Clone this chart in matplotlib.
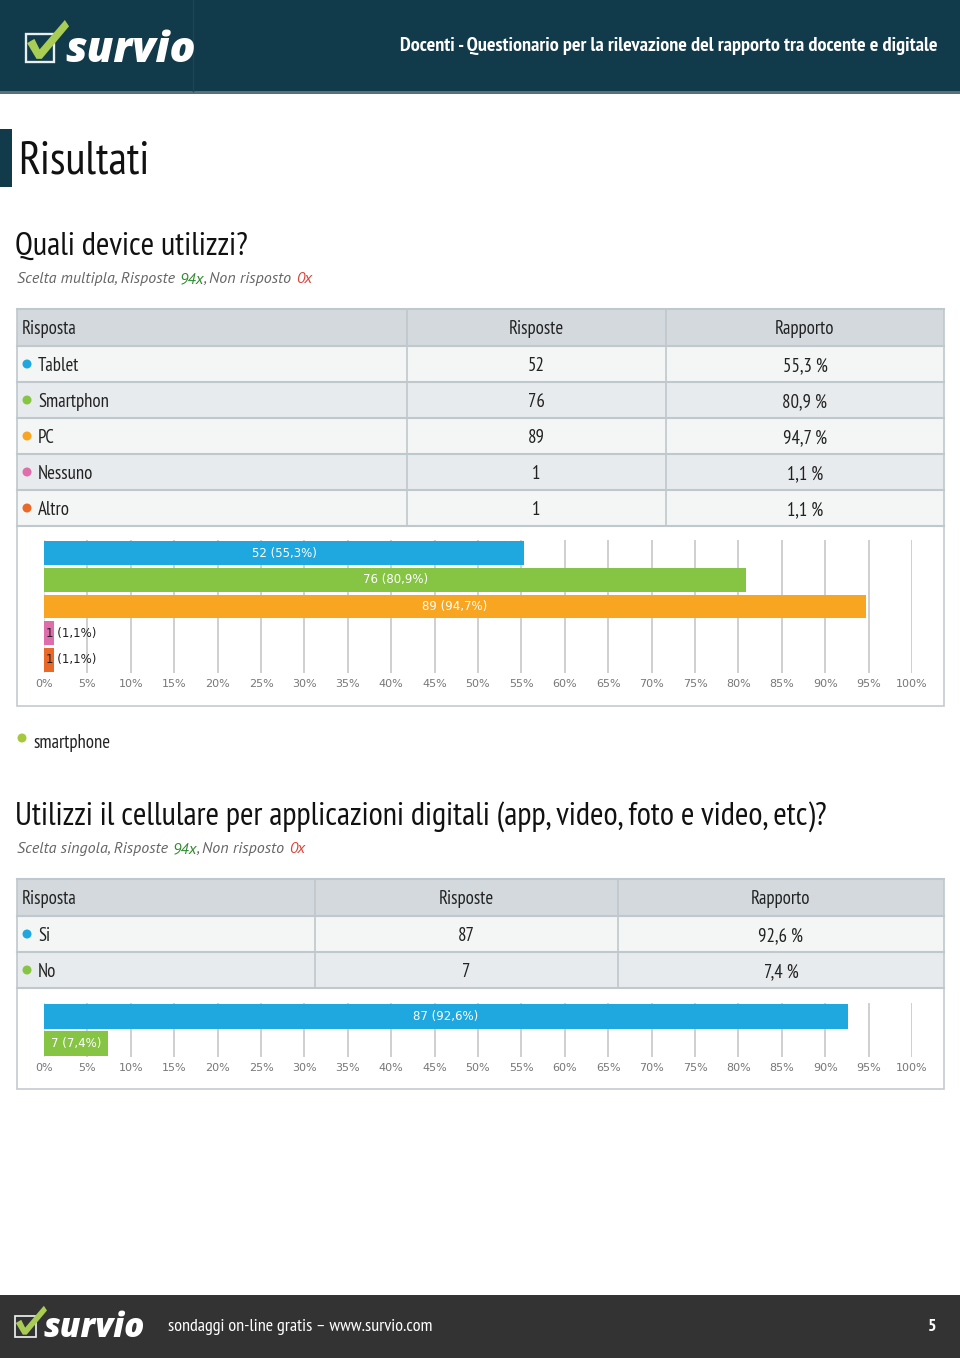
import matplotlib
matplotlib.use("Agg")
import matplotlib.pyplot as plt
from matplotlib.patches import Rectangle, Polygon, Circle

NARROW = ['PT Sans Narrow', 'Fira Sans Condensed', 'DejaVu Sans']
ITAL = ['PT Sans', 'Fira Sans Condensed', 'DejaVu Sans']
plt.rcParams['font.family'] = NARROW

# --- data ---
header_title = "Docenti - Questionario per la rilevazione del rapporto tra docente e digitale"
q1_title = "Quali device utilizzi?"
q1_kind = "Scelta multipla"
q1_labels = ['Tablet', 'Smartphon', 'PC', 'Nessuno', 'Altro']
q1_counts = [52, 76, 89, 1, 1]
q1_pct = [55.3, 80.9, 94.7, 1.1, 1.1]
q1_other = ['smartphone']

q2_title = "Utilizzi il cellulare per applicazioni digitali (app, video, foto e video, etc)?"
q2_kind = "Scelta singola"
q2_labels = ['Si', 'No']
q2_counts = [87, 7]
q2_pct = [92.6, 7.4]

answered = 94
unanswered = 0
pct_ticks = list(range(0, 101, 5))
page_no = 5

q1_colors = ['#1fa7e0', '#86c444', '#f8a621', '#e06dab', '#ea6828']
q2_colors = ['#1fa7e0', '#86c444']

DARK = '#113a4a'

fig = plt.figure(figsize=(9.6, 13.58), dpi=100)
bg = fig.add_axes([0, 0, 1, 1])
bg.set_xlim(0, 960)
bg.set_ylim(1358, 0)
bg.axis('off')
renderer = fig.canvas.get_renderer()


def fmt(v):
    return f"{v:.1f}".replace('.', ',')


def rich(x, y, parts, **kw):
    for s, c in parts:
        t = bg.text(x, y, s, color=c, **kw)
        x += t.get_window_extent(renderer=renderer).width


def logo(x0, yb, scale, fs):
    # check box + green tick + word mark
    s = scale
    bg.add_patch(Rectangle((x0, yb - 27 * s), 27 * s, 27 * s, fill=False,
                           ec='#e8eef0', lw=1.6 * s))
    tick = [(x0 + 1 * s, yb - 18 * s), (x0 + 8 * s, yb - 22 * s), (x0 + 13 * s, yb - 12 * s),
            (x0 + 37 * s, yb - 40 * s), (x0 + 41 * s, yb - 34 * s), (x0 + 15 * s, yb - 3 * s),
            (x0 + 10 * s, yb - 3 * s)]
    bg.add_patch(Polygon(tick, closed=True, fc='#a9cc55', ec='none'))
    bg.text(x0 + 37 * s, yb, 'survio', color='white', fontsize=fs, fontweight=800,
            fontstyle='italic', family=['Open Sans', 'DejaVu Sans'], va='baseline')


# header band
bg.add_patch(Rectangle((0, 0), 960, 93, fc=DARK, ec='none'))
bg.add_patch(Rectangle((0, 91), 960, 3, fc='#56707c', ec='none'))
bg.plot([193, 193], [0, 91], color='#1b4656', lw=1)
logo(26, 62, 1.05, 31)
bg.text(937, 46, header_title, color='white', fontsize=14.6, fontweight='bold',
        ha='right', va='center')

# section title
bg.add_patch(Rectangle((0, 129), 12, 58, fc=DARK, ec='none'))
bg.text(18, 162, 'Risultati', fontsize=33, color='#111111', va='center')


def question(ytitle, title, kind):
    bg.text(15, ytitle, title, fontsize=23.4, color='#111111', va='center')
    rich(17, ytitle + 32, [(f"{kind}, Risposte ", '#666666'), (f"{answered}x", '#2e8b2e'),
                           (", Non risposto ", '#666666'), (f"{unanswered}x", '#d9443a')],
         fontsize=11.5, fontstyle='italic', family=ITAL, va='center')


def table(ytop, cols, labels, counts, pcts, colors):
    rh = 36
    x0, x1, x2, x3 = cols
    bg.add_patch(Rectangle((x0, ytop), x3 - x0, 37, fc='#d3d9dd', ec='none'))
    for i in range(len(labels)):
        y = ytop + 37 + i * rh
        bg.add_patch(Rectangle((x0, y), x3 - x0, rh, fc='#f4f5f5' if i % 2 == 0 else '#e8ebed',
                               ec='none'))
    yb = ytop + 37 + len(labels) * rh
    for k in range(len(labels) + 2):
        y = ytop if k == 0 else ytop + 37 + (k - 1) * rh
        bg.plot([x0, x3], [y, y], color='#bfc8cd', lw=1.5)
    for x in (x0, x1, x2, x3):
        bg.plot([x, x], [ytop, yb], color='#bfc8cd', lw=1.2)
    ymid = ytop + 20.5
    bg.text(x0 + 5, ymid, 'Risposta', fontsize=13.5, color='#222222', va='center')
    bg.text((x1 + x2) / 2, ymid, 'Risposte', fontsize=13.5, color='#222222', va='center',
            ha='center')
    bg.text((x2 + x3) / 2, ymid, 'Rapporto', fontsize=13.5, color='#222222', va='center',
            ha='center')
    for i, (lab, n, p, c) in enumerate(zip(labels, counts, pcts, colors)):
        ym = ytop + 37 + i * rh + rh / 2
        bg.add_patch(Circle((x0 + 10, ym), 4.5, fc=c, ec='none'))
        bg.text(x0 + 21, ym + 2, lab, fontsize=13.5, color='#222222', va='center')
        bg.text((x1 + x2) / 2, ym + 2, str(n), fontsize=13.5, color='#222222', va='center',
                ha='center')
        bg.text((x2 + x3) / 2, ym + 2, fmt(p) + ' %', fontsize=13.5, color='#222222',
                va='center', ha='center')
    return yb


def bars(ytop, ybot, labels, counts, pcts, colors, box_bottom, box_top):
    bg.add_patch(Rectangle((17, box_top), 927, box_bottom - box_top, fill=False,
                           ec='#c3cbd0', lw=1.2))
    ax = fig.add_axes([44 / 960, 1 - ybot / 1358, 868 / 960, (ybot - ytop) / 1358])
    n = len(labels)
    ypos = list(range(n))
    ax.barh(ypos, pcts, height=0.9, color=colors, zorder=2)
    ax.set_xlim(0, 100)
    ax.set_ylim(n - 0.5, -0.5)
    ax.set_xticks(pct_ticks)
    ax.set_xticklabels([f"{t}%" for t in pct_ticks], family='DejaVu Sans', fontsize=8,
                       color='#777777')
    ax.tick_params(axis='x', length=0, pad=4)
    ax.set_yticks([])
    for s in ax.spines.values():
        s.set_visible(False)
    ax.patch.set_alpha(0)
    for t in pct_ticks[1:]:
        ax.axvline(t, color='#cfcfcf', lw=1.4, zorder=1)
    ax.axvline(0, color='#e3e3e3', lw=1, zorder=1)
    for y, c, p in zip(ypos, counts, pcts):
        txt = f"{c} ({fmt(p)}%)"
        if p > 5:
            ax.text(p / 2, y, txt, ha='center', va='center', color='white', fontsize=8.5,
                    family='DejaVu Sans', zorder=3)
        else:
            ax.text(0.2, y, txt, ha='left', va='center', color='#222222', fontsize=8.5,
                    family='DejaVu Sans', zorder=3)
    return ax


# question 1
question(247, q1_title, q1_kind)
yb1 = table(309, (17, 407, 666, 944), q1_labels, q1_counts, q1_pct, q1_colors)
bars(540, 673, q1_labels, q1_counts, q1_pct, q1_colors, 706, yb1)

for k, o in enumerate(q1_other):
    bg.add_patch(Circle((22, 738 + k * 30), 4.5, fc='#a6c83c', ec='none'))
    bg.text(33, 743 + k * 30, o, fontsize=13.5, color='#222222', va='center')

# question 2
question(817, q2_title, q2_kind)
yb2 = table(879, (17, 315, 618, 944), q2_labels, q2_counts, q2_pct, q2_colors)
bars(1003, 1057, q2_labels, q2_counts, q2_pct, q2_colors, 1089, yb2)

# footer
bg.add_patch(Rectangle((0, 1295), 960, 63, fc='#333333', ec='none'))
logo(15, 1337, 0.78, 24)
bg.text(168, 1327, 'sondaggi on-line gratis \u2013 www.survio.com', color='white',
        fontsize=13.1, va='center')
bg.text(936, 1327, str(page_no), color='white', fontsize=13, fontweight='bold',
        va='center', ha='right')

fig.savefig('out.png', dpi=100)
